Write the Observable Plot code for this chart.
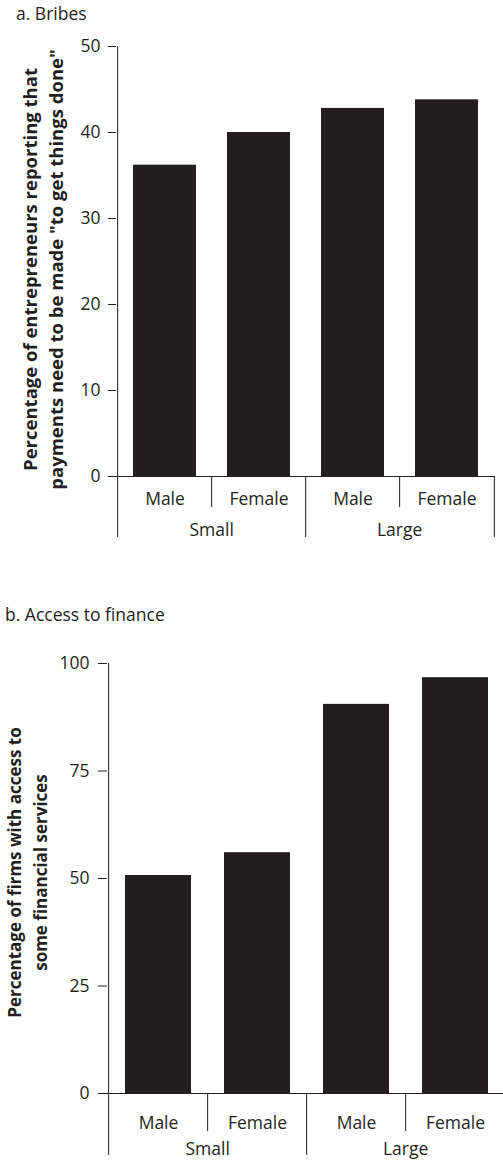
<!DOCTYPE html>
<html><head><meta charset="utf-8">
<script src="https://cdn.jsdelivr.net/npm/d3@7"></script>
<script src="https://cdn.jsdelivr.net/npm/@observablehq/plot@0.6"></script>
<style>
body{margin:0;background:#fff;font-family:"Open Sans",sans-serif;color:#231f20}
#wrap{position:relative;width:503px;height:1161px;overflow:hidden}
.title{position:absolute;font-size:17.5px;line-height:17px;white-space:nowrap}
.chart{position:absolute;left:0}
.chart svg{overflow:visible}
</style></head><body><div id="wrap">
<div class="title" style="left:16px;top:5px">a. Bribes</div>
<div class="title" style="left:5px;top:606px">b. Access to finance</div>
<div class="chart" id="ca" style="top:30px"></div>
<div class="chart" id="cb" style="top:640px"></div>
</div>
<script>
const sizes = ["Small", "Small", "Large", "Large"];
const genders = ["Male", "Female", "Male", "Female"];
const bribes = [36.2, 40.0, 42.8, 43.8];
const finance = [50.7, 56.0, 90.5, 96.7];
const bribesTicks = [0, 10, 20, 30, 40, 50];
const financeTicks = [0, 25, 50, 75, 100];
const bribesLabel = "Percentage of entrepreneurs reporting that\npayments need to be made \"to get things done\"";
const financeLabel = "Percentage of firms with access to\nsome financial services";

const ink = "#231f20";
const FS = 17.5;

function makeChart(o) {
  const rows = genders.map((g, i) => ({key: sizes[i] + " " + g, gender: g, size: sizes[i], value: o.values[i]}));
  const n = rows.length;
  const W = 503;
  const step = (W - o.ml - o.mr) / n;
  const innerSeps = rows.filter((d, i) => i > 0 && rows[i - 1].size === d.size);
  const groupStarts = rows.filter((d, i) => i > 0 && rows[i - 1].size !== d.size);
  const last = rows[n - 1];
  return Plot.plot({
    width: W, height: o.height,
    marginTop: o.mt, marginBottom: o.mb, marginLeft: o.ml, marginRight: o.mr,
    style: {fontFamily: "Open Sans", fontSize: FS + "px", color: ink, background: "white", overflow: "visible"},
    x: {type: "band", domain: rows.map(d => d.key), paddingInner: 0.33, paddingOuter: 0.165, axis: null},
    y: {domain: [0, o.ymax], axis: null},
    marks: [
      Plot.barY(rows, {x: "key", y: "value", fill: ink}),
      Plot.ruleY([0], {stroke: ink, strokeWidth: 1}),
      Plot.axisY({ticks: o.ticks, tickSize: o.tickSize, tickPadding: o.tickPadding, fontSize: FS, stroke: ink, strokeWidth: 1, fill: ink, label: null, tickFormat: d => String(d)}),
      Plot.ruleX(rows.slice(0, 1), {x: "key", dx: -step / 2, stroke: ink, strokeWidth: 1, insetBottom: -o.groupDrop}),
      Plot.ruleX(groupStarts, {x: "key", dx: -step / 2, y1: 0, y2: 0, insetBottom: -o.groupDrop, stroke: ink, strokeWidth: 1}),
      Plot.ruleX([last], {x: "key", dx: step / 2, y1: 0, y2: 0, insetBottom: -o.groupDrop, stroke: ink, strokeWidth: 1}),
      Plot.ruleX(innerSeps, {x: "key", dx: -step / 2, y1: 0, y2: 0, insetBottom: -o.catDrop, stroke: ink, strokeWidth: 1}),
      Plot.text(rows, {x: "key", text: "gender", frameAnchor: "bottom", lineAnchor: "bottom", dy: o.catDy, fontSize: FS, fill: ink}),
      Plot.text(innerSeps, {x: "key", text: "size", frameAnchor: "bottom", lineAnchor: "bottom", dx: -step / 2, dy: o.grpDy, fontSize: FS, fill: ink}),
      Plot.text([o.label], {text: d => d, frameAnchor: "left", textAnchor: "middle", rotate: -90, lineAnchor: "bottom", dx: o.labelDx, dy: o.labelDy, fontWeight: "bold", fontSize: o.labelFS, lineHeight: o.lh, fill: ink})
    ]
  });
}

document.getElementById("ca").append(makeChart({
  values: bribes, ticks: bribesTicks, ymax: 50, label: bribesLabel,
  height: 520, mt: 16, mb: 74, ml: 116, mr: 8,
  tickSize: 8, tickPadding: 8, groupDrop: 61, catDrop: 31, catDy: 28, grpDy: 59,
  labelDx: -54, labelDy: 8, lh: 1.36, labelFS: 18.5
}));
document.getElementById("cb").append(makeChart({
  values: finance, ticks: financeTicks, ymax: 100, label: financeLabel,
  height: 521, mt: 23, mb: 68, ml: 107, mr: -3,
  tickSize: 9, tickPadding: 9, groupDrop: 62, catDrop: 38, catDy: 35, grpDy: 61,
  labelDx: -61, labelDy: -6, lh: 1.53, labelFS: 17
}));
</script>
</body></html>
